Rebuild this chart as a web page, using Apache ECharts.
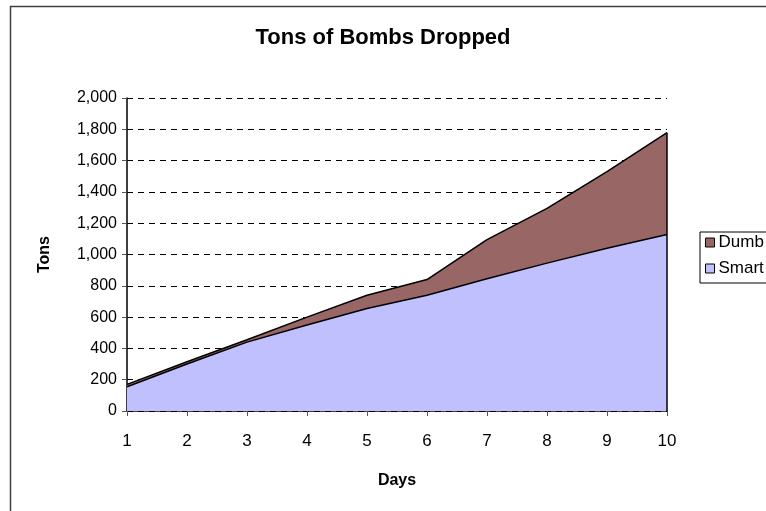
<!DOCTYPE html>
<html>
<head>
<meta charset="utf-8">
<script src="https://cdn.jsdelivr.net/npm/echarts@6/dist/echarts.min.js"></script>
<style>
  html, body { margin: 0; padding: 0; background: #fff; }
  #chart { width: 766px; height: 511px; }
</style>
</head>
<body>
<div id="chart"></div>
<script>
// data
var days = ['1', '2', '3', '4', '5', '6', '7', '8', '9', '10'];
var smart = [155, 300, 440, 550, 655, 740, 845, 945, 1040, 1128];
var dumb = [15, 15, 15, 50, 85, 100, 250, 350, 490, 650];
var yTicks = [0, 200, 400, 600, 800, 1000, 1200, 1400, 1600, 1800, 2000];

var font = 'Liberation Sans, Arial, sans-serif';
var last = days.length - 1;

var dom = document.getElementById("chart");
var myChart = echarts.init(dom);
var option = {
    animation: false,
    textStyle: { fontFamily: font },
    color: ['#c0c0ff', '#996666'],
    title: {
        text: 'Tons of Bombs Dropped',
        left: 'center',
        top: 22,
        textStyle: {
            color: '#000',
            fontSize: 22,
            fontWeight: 'bold',
            fontFamily: font
        }
    },
    graphic: [{
        type: 'rect',
        left: 8,
        top: 4,
        shape: { width: 800, height: 600 },
        style: { fill: null, stroke: '#404040', lineWidth: 1.5 },
        silent: true
    }],
    legend: {
        orient: 'vertical',
        left: 700,
        top: 232,
        data: ['Dumb', 'Smart'],
        icon: 'rect',
        itemWidth: 9,
        itemHeight: 9,
        itemGap: 9,
        padding: [2, 20, 6, 5],
        borderColor: '#000',
        borderWidth: 1,
        borderRadius: 0,
        textStyle: { color: '#000', fontSize: 17, fontFamily: font, padding: [0, 0, 0, -1] },
        itemStyle: { borderColor: '#000', borderWidth: 1 }
    },
    grid: {
        left: 127,
        right: 99,
        top: 98,
        bottom: 100
    },
    xAxis: {
        type: 'category',
        boundaryGap: false,
        data: days,
        name: 'Days',
        nameLocation: 'middle',
        nameGap: 62,
        nameTextStyle: { color: '#000', fontSize: 16, fontWeight: 'bold', fontFamily: font },
        axisLine: { lineStyle: { color: '#000', width: 1.5 } },
        axisTick: { length: 5, lineStyle: { color: '#555' } },
        axisLabel: { color: '#000', fontSize: 17, margin: 22, fontFamily: font },
        splitLine: { show: false }
    },
    yAxis: {
        type: 'value',
        min: yTicks[0],
        max: yTicks[yTicks.length - 1],
        interval: 200,
        name: 'Tons',
        nameLocation: 'middle',
        nameGap: 74,
        nameRotate: 90,
        nameTextStyle: { color: '#000', fontSize: 16, fontWeight: 'bold', fontFamily: font },
        axisLine: { show: true, lineStyle: { color: '#000', width: 1.5 } },
        axisTick: { show: true, length: 5, lineStyle: { color: '#555' } },
        axisLabel: {
            color: '#000',
            fontSize: 16,
            margin: 10,
            fontFamily: font,
            formatter: function (v) { return v.toLocaleString('en-US'); }
        },
        splitLine: { show: true, lineStyle: { color: '#000', type: [6, 5], width: 1 } }
    },
    series: [
        {
            name: 'Smart',
            type: 'line',
            stack: 'total',
            data: smart,
            symbol: 'none',
            lineStyle: { color: '#000', width: 1.5 },
            areaStyle: { color: '#c0c0ff', opacity: 1 },
            itemStyle: { color: '#c0c0ff' }
        },
        {
            name: 'Dumb',
            type: 'line',
            stack: 'total',
            data: dumb,
            symbol: 'none',
            lineStyle: { color: '#000', width: 1.5 },
            areaStyle: { color: '#996666', opacity: 1 },
            itemStyle: { color: '#996666' },
            markLine: {
                silent: true,
                symbol: 'none',
                label: { show: false },
                lineStyle: { color: '#000', width: 1.5, type: 'solid' },
                data: [[
                    { coord: [days[last], 0] },
                    { coord: [days[last], smart[last] + dumb[last]] }
                ]]
            }
        }
    ]
};
myChart.setOption(option, true);
</script>
</body>
</html>
